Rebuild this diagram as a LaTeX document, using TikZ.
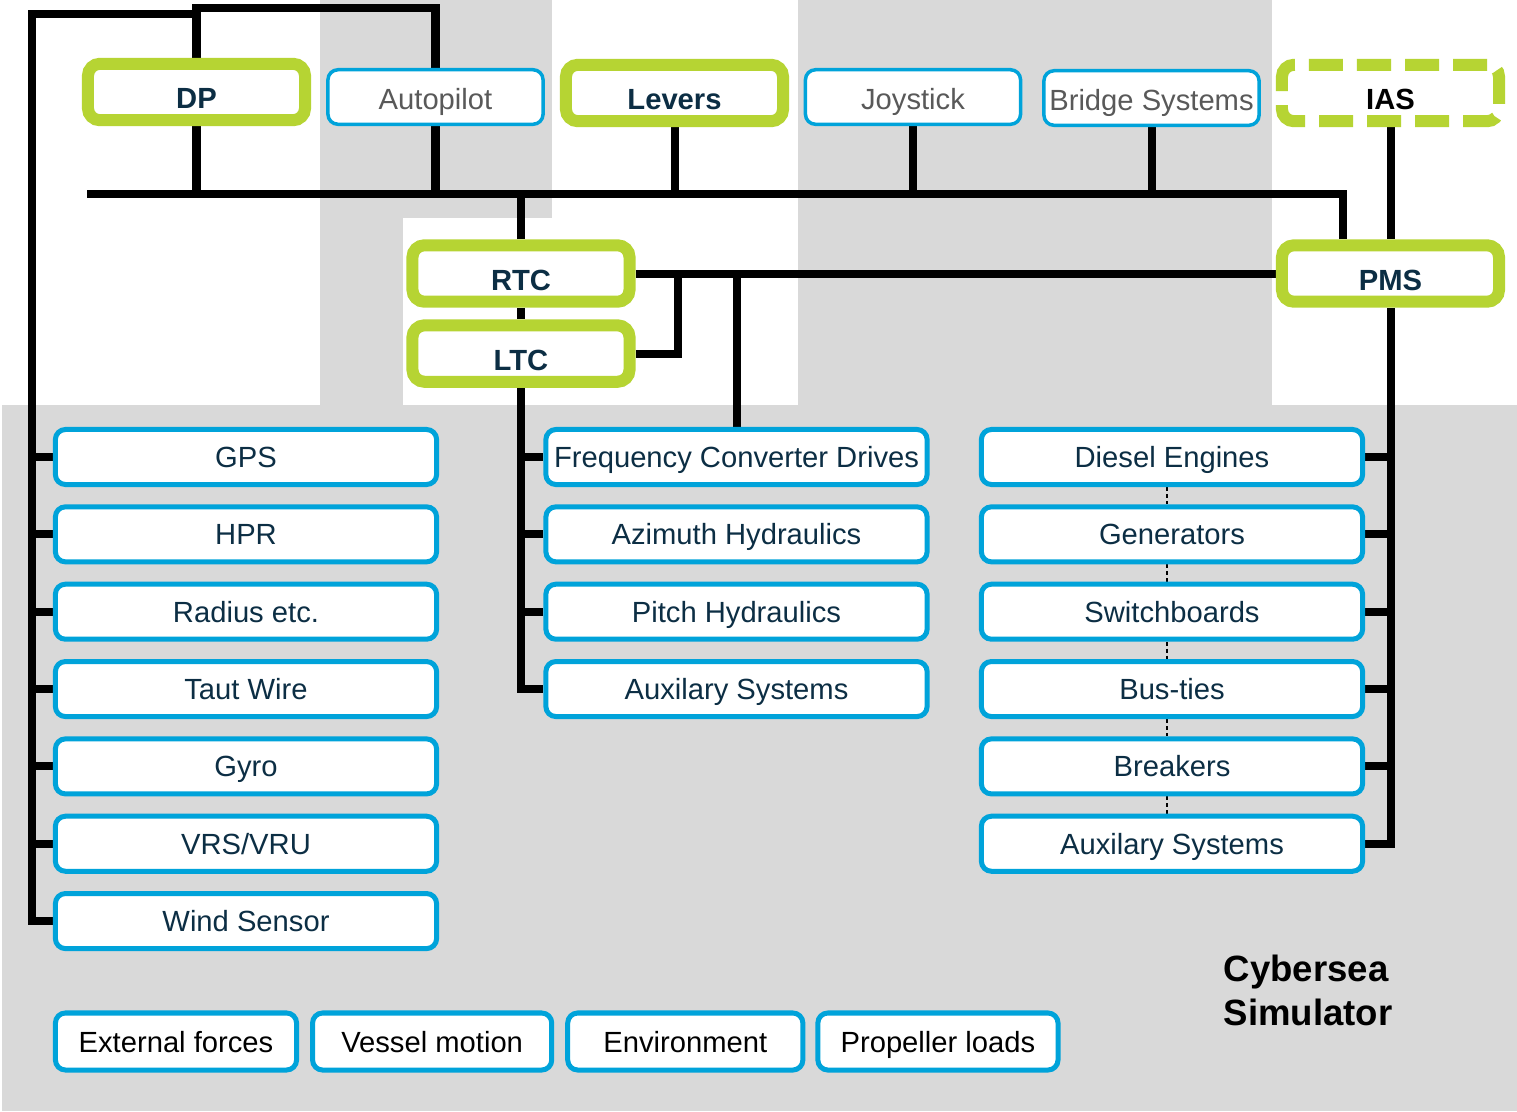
\documentclass[tikz,border=0pt]{standalone}
\usepackage{fontspec}
\setmainfont{Liberation Sans}
\usetikzlibrary{positioning}

\definecolor{simblue}{RGB}{0,163,218}
\definecolor{simgreen}{RGB}{182,212,51}
\definecolor{simgray}{RGB}{217,217,217}
\definecolor{simnavy}{RGB}{12,46,68}
\definecolor{simtext}{RGB}{89,89,89}

\pgfdeclarelayer{backdrop}
\pgfdeclarelayer{wires}
\pgfsetlayers{backdrop,wires,main}

\newcommand{\boxfont}{\fontsize{8.3}{10}\selectfont}

\begin{document}
\begin{tikzpicture}[x=0.01cm, y=-0.01cm, node distance=0.773cm, on grid,
    ctrl/.style={draw=simgreen, line width=0.12cm, fill=white, rounded corners=0.12cm,
      minimum width=2.17cm, minimum height=0.47cm, inner xsep=1pt,
      text=simnavy, font=\boxfont\bfseries, text height=0.33cm, text depth=0pt},
    panel/.style={draw=simblue, line width=0.035cm, fill=white, rounded corners=0.1cm,
      minimum width=2.15cm, minimum height=0.545cm, inner xsep=1pt,
      text=simtext, font=\boxfont, text height=0.25cm, text depth=0pt},
    unit/.style={draw=simblue, line width=0.05cm, fill=white, rounded corners=0.1cm,
      minimum width=3.81cm, minimum height=0.55cm, inner xsep=0pt,
      text=simnavy, font=\boxfont, text height=0.21cm, text depth=0pt},
    model/.style={unit, minimum height=0.57cm, text=black},
    bus/.style={line width=0.08cm},
    tie/.style={line width=0.025cm, dash pattern=on 0.04cm off 0.03cm}]

    % background panels
    \begin{pgfonlayer}{backdrop}
        \fill[white] (0,0) rectangle (1517,1111);
        \fill[simgray] (320,0) rectangle (552,218);
        \fill[simgray] (320,218) rectangle (403,405);
        \fill[simgray] (798,0) rectangle (1272,405);
        \fill[simgray] (2,405) rectangle (1517,1111);
    \end{pgfonlayer}
    \useasboundingbox (0,0) rectangle (1517,1111);

    % bridge
    \node[ctrl] (dp) at (196.5,92) {DP};
    \node[panel] (autopilot) at (435.5,97) {Autopilot};
    \node[ctrl] (levers) at (674.5,93) {Levers};
    \node[panel] (joystick) at (913,97) {Joystick};
    \node[panel] (bridge) at (1151.5,98) {Bridge Systems};
    \node[ctrl, text=black, dash pattern=on 0.34cm off 0.14cm] (ias) at (1390.5,93) {IAS};

    % thruster and power control
    \node[ctrl] (rtc) at (521,273.5) {RTC};
    \node[ctrl, below=0.8cm of rtc] (ltc) {LTC};
    \node[ctrl] (pms) at (1390.5,273.5) {PMS};

    % sensors
    \node[unit] (gps) at (246,457) {GPS};
    \node[unit, below=of gps] (hpr) {HPR};
    \node[unit, below=of hpr] (radius) {Radius etc.};
    \node[unit, below=of radius] (taut) {Taut Wire};
    \node[unit, below=of taut] (gyro) {Gyro};
    \node[unit, below=of gyro] (vrs) {VRS/VRU};
    \node[unit, below=of vrs] (wind) {Wind Sensor};

    % thrusters
    \node[unit] (fcd) at (736.5,457) {Frequency Converter Drives};
    \node[unit, below=of fcd] (azimuth) {Azimuth Hydraulics};
    \node[unit, below=of azimuth] (pitch) {Pitch Hydraulics};
    \node[unit, below=of pitch] (thraux) {Auxilary Systems};

    % power plant
    \node[unit] (diesel) at (1172,457) {Diesel Engines};
    \node[unit, below=of diesel] (gen) {Generators};
    \node[unit, below=of gen] (swb) {Switchboards};
    \node[unit, below=of swb] (busties) {Bus-ties};
    \node[unit, below=of busties] (breakers) {Breakers};
    \node[unit, below=of breakers] (pwraux) {Auxilary Systems};

    % simulator models
    \node[model, minimum width=2.41cm] (extf) at (176,1041.5) {External forces};
    \node[model, minimum width=2.39cm, right=2.56cm of extf] (motion) {Vessel motion};
    \node[model, minimum width=2.35cm, right=2.53cm of motion] (env) {Environment};
    \node[model, minimum width=2.40cm, right=2.525cm of env] (proploads) {Propeller loads};

    \node[anchor=north west, inner sep=0pt, align=left,
          font=\fontsize{10.4}{12.5}\selectfont\bfseries] (sim) at (1223,954) {Cybersea\\Simulator};

    \coordinate (busW) at (87,194);
    \coordinate (busE) at (1343,194);
    \coordinate (loopTop) at (435.5,8);
    \coordinate (sensTop) at (32,14);
    \coordinate (ltcJoin) at (678,273.5);

    \begin{pgfonlayer}{wires}
        \draw[bus] (busW) -- (busE) -- (busE |- pms.north);
        \foreach \n in {dp,autopilot,levers,joystick,bridge,rtc}
            \draw[bus] (\n) -- (\n |- busW);
        \draw[bus] (dp) |- (loopTop) -- (autopilot);
        \draw[bus] (dp |- sensTop) -- (sensTop) |- (wind);
        \foreach \n in {gps,hpr,radius,taut,gyro,vrs}
            \draw[bus] (\n) -- (\n -| sensTop);

        \draw[bus] (rtc) -- (ltc);
        \draw[bus] (ltc) |- (thraux);
        \foreach \n in {fcd,azimuth,pitch}
            \draw[bus] (\n) -- (\n -| ltc);
        \draw[bus] (rtc) -- (pms);
        \draw[bus] (ltc) -| (ltcJoin);
        \draw[bus] (fcd) -- (fcd |- rtc);

        \draw[bus] (ias) -- (pms);
        \draw[bus] (pms) |- (pwraux);
        \foreach \n in {diesel,gen,swb,busties,breakers}
            \draw[bus] (\n) -- (\n -| pms);
        \foreach \a/\b in {diesel/gen,gen/swb,swb/busties,busties/breakers,breakers/pwraux}
            \draw[tie] ([xshift=-0.05cm]\a.south) -- ([xshift=-0.05cm]\b.north);
    \end{pgfonlayer}
\end{tikzpicture}
\end{document}
